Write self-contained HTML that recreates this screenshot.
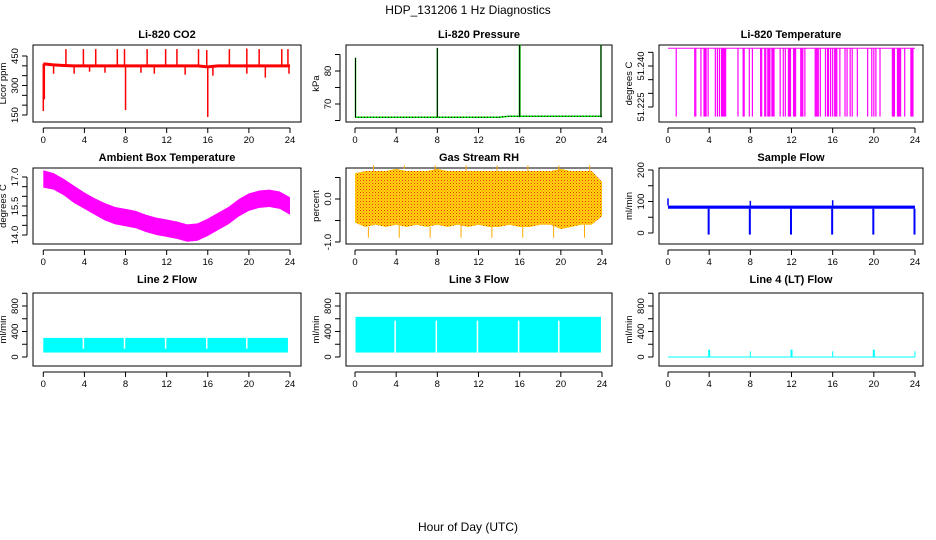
<!DOCTYPE html>
<html><head><meta charset="utf-8"><style>
html,body{margin:0;padding:0;background:#fff;width:936px;height:540px;overflow:hidden}
svg{display:block;font-family:"Liberation Sans",sans-serif}
.t{font-family:"Liberation Sans Narrow","Liberation Sans",sans-serif;font-weight:bold;font-size:11px}
.lab{font-size:9.5px}
</style></head><body>
<svg id="c" width="936" height="540" viewBox="0 0 936 540" xmlns="http://www.w3.org/2000/svg">
<text x="468" y="14" text-anchor="middle" font-size="12">HDP_131206  1 Hz Diagnostics</text>
<text x="468" y="531" text-anchor="middle" font-size="12">Hour of Day (UTC)</text>
</svg>
<script>
// ---- data ----
const xTicks=[0,4,8,12,16,20,24];
const co2Base=[410,405,402,400,400,400,400,400,400,400,400,400,400,400,400,400,395,400,400,400,400,400,400,400,400];
const co2UpHours=[2.2,3.9,5.1,7.2,7.9,10.1,11.9,13.0,15.1,15.9,18.1,19.8,21.0,23.2,23.8];
const co2UpVals=[485,485,485,485,485,485,485,485,485,480,485,488,485,485,485];
const co2DownHours=[0.0,0.1,8.0,16.0,3.0,6.0,9.5,13.8,16.5,19.8,21.6,23.9,1.0,4.5,10.8];
const co2DownVals=[170,230,175,140,360,365,365,355,350,360,340,360,360,370,360];
const presBase=[66,66,66,66,66,66,66,66,66,66,66,66,66,66,66,66.3,66.3,66.3,66.3,66.3,66.3,66.3,66.3,66.3,66.3];
const presSpikeHours=[0.05,8.0,16.0,23.9];
const presSpikeVals=[84,87,88,88];
const tempHours=[0.8,2.6,2.7,3.2,3.5,3.6,3.7,3.9,4.6,4.8,5.0,5.2,5.3,5.4,5.5,5.6,6.8,7.3,7.4,7.9,8.2,9.0,9.1,9.4,9.5,9.7,9.8,9.9,10.1,10.2,10.3,10.9,11.2,11.4,11.7,11.8,11.9,12.2,12.3,12.4,12.9,13.0,13.1,13.3,14.3,14.4,14.5,14.6,14.8,15.3,15.5,15.6,15.8,16.0,16.2,16.3,16.4,16.7,17.2,17.4,17.7,17.9,18.4,19.4,19.8,20.0,20.2,20.6,21.8,21.9,22.0,22.3,22.4,22.5,22.6,23.0,23.6,23.7,23.8];
const tempTop=51.2465, tempLow=51.2215;
const ambHours=[0,1,2,3,4,5,6,7,8,9,10,11,12,13,14,15,16,17,18,19,20,21,22,23,24];
const ambHi=[17.35,17.2,16.9,16.55,16.2,15.9,15.65,15.45,15.35,15.25,15.05,14.9,14.8,14.7,14.55,14.6,14.85,15.15,15.45,15.85,16.15,16.3,16.35,16.25,15.95];
const ambLo=[16.45,16.35,16.05,15.65,15.35,15.05,14.75,14.55,14.45,14.35,14.15,14.0,13.9,13.8,13.65,13.7,13.95,14.25,14.55,14.95,15.25,15.4,15.45,15.35,15.05];
const rhHi=[0.6,0.65,0.65,0.65,0.7,0.65,0.65,0.65,0.7,0.65,0.65,0.65,0.65,0.65,0.65,0.65,0.65,0.65,0.65,0.65,0.7,0.65,0.65,0.65,0.4];
const rhLo=[-0.55,-0.65,-0.6,-0.65,-0.6,-0.65,-0.6,-0.65,-0.6,-0.65,-0.6,-0.65,-0.6,-0.65,-0.65,-0.6,-0.65,-0.65,-0.6,-0.6,-0.7,-0.65,-0.6,-0.6,-0.4];
const flowLo=77, flowHi=87;
const flowDipHours=[4,8,12,16,20,24];
const flowUpHours=[0,8,16];
const flowUpVals=[110,102,104];
const l2Lo=70, l2Hi=300, l3Lo=70, l3Hi=630;
const gapHours=[3.9,7.9,11.9,15.9,19.8];
const l4SpikeHours=[4,8,12,16,20,24];
const l4SpikeVals=[115,90,115,90,115,90];

const NS="http://www.w3.org/2000/svg";
const svg=document.getElementById('c');
function el(tag,attrs,parent){const e=document.createElementNS(NS,tag);for(const k in attrs)e.setAttribute(k,attrs[k]);(parent||svg).appendChild(e);return e;}

function panel(name,title,ylab,box,x0,x24,yMin,yPx0,yMax,yPx1,ticks,labels,titleY){
  const g=el('g',{});
  
  
  const X=h=>x0+(x24-x0)*h/24;
  const Y=v=>yPx0+(yPx1-yPx0)*(v-yMin)/(yMax-yMin);
  const r=el('rect',{x:box[0],y:box[1],width:box[2]-box[0],height:box[3]-box[1],fill:'none',stroke:'#000','stroke-width':1},g);
  
  
  const t=el('text',{x:(box[0]+box[2])/2,y:titleY,'text-anchor':'middle',class:'t'},g);
  t.textContent=title;
  
  
  const xa=el('g',{},g);
  
  
  el('line',{x1:X(0),x2:X(24),y1:box[3]+6,y2:box[3]+6,stroke:'#000'},xa);
  xTicks.forEach(h=>{el('line',{x1:X(h),x2:X(h),y1:box[3]+6,y2:box[3]+11,stroke:'#000'},xa);
    const tx=el('text',{x:X(h),y:box[3]+21,'text-anchor':'middle',class:'lab'},xa);tx.textContent=h;});
  const ya=el('g',{},g);
  
  
  const ax=box[0]-6;
  el('line',{x1:ax,x2:ax,y1:Y(ticks[0]),y2:Y(ticks[ticks.length-1]),stroke:'#000'},ya);
  ticks.forEach(v=>el('line',{x1:ax,x2:ax-5,y1:Y(v),y2:Y(v),stroke:'#000'},ya));
  labels.forEach(l=>{const yy=Y(parseFloat(l));const tx=el('text',{x:ax-9,y:yy,'text-anchor':'middle',class:'lab',transform:`rotate(-90 ${ax-9} ${yy})`},ya);tx.textContent=l;});
  const yl=el('text',{x:box[0]-27,y:(box[1]+box[3])/2,'text-anchor':'middle',class:'lab',transform:`rotate(-90 ${box[0]-27} ${(box[1]+box[3])/2})`},g);
  yl.textContent=ylab;
  
  
  const s=el('g',{},g);
  
  
  return {X,Y,s};
}
function vline(p,h,a,b,col,w){el('line',{x1:p.X(h),x2:p.X(h),y1:p.Y(a),y2:p.Y(b),stroke:col,'stroke-width':w||1},p.s);}
function band(p,hs,hi,lo,fill){let pts=hs.map((h,i)=>p.X(h)+','+p.Y(hi[i]));for(let i=hs.length-1;i>=0;i--)pts.push(p.X(hs[i])+','+p.Y(lo[i]));el('polygon',{points:pts.join(' '),fill:fill},p.s);}

// CO2
let p=panel('co2','Li-820 CO2','Licor ppm',[33,45,301,122],43.3,290,150,115,450,56,[150,200,250,300,350,400,450],['150','300','450'],38);
co2UpHours.forEach((h,i)=>vline(p,h,co2Base[Math.round(h)],co2UpVals[i],'#f00',1.5));
co2DownHours.forEach((h,i)=>vline(p,h,co2Base[Math.round(h)],co2DownVals[i],'#f00',1.5));
el('polyline',{points:ambHours.map((h,i)=>p.X(h)+','+p.Y(co2Base[i])).join(' '),fill:'none',stroke:'#f00','stroke-width':3},p.s);

// Pressure
p=panel('pressure','Li-820 Pressure','kPa',[346,45,612,122],355,602,70,104,80,71,[65,70,75,80,85],['70','80'],38);
el('polyline',{points:ambHours.map((h,i)=>p.X(h)+','+p.Y(presBase[i])).join(' '),fill:'none',stroke:'#0d0','stroke-width':1.5},p.s);
el('polyline',{points:ambHours.map((h,i)=>p.X(h)+','+p.Y(presBase[i])).join(' '),fill:'none',stroke:'#000','stroke-width':1,'stroke-dasharray':'1 2'},p.s);
presSpikeHours.forEach((h,i)=>{vline(p,h,66,presSpikeVals[i],'#0d0',i==2?2:1.5);vline(p,h,66,presSpikeVals[i],'#000',1);});

// Temperature
p=panel('li820-temperature','Li-820 Temperature','degrees C',[659,45,923,122],668,915,51.225,107,51.240,66,[51.225,51.230,51.235,51.240,51.245],['51.225','51.240'],38);
el('line',{x1:p.X(0),x2:p.X(24),y1:p.Y(tempTop),y2:p.Y(tempTop),stroke:'#f0f','stroke-width':1},p.s);
tempHours.forEach(h=>vline(p,h,tempTop,tempLow,'#f0f',1.2));

// Ambient
p=panel('ambient-temperature','Ambient Box Temperature','degrees C',[33,168,301,244],43.3,290,14.0,235,17.0,177,[14.0,14.5,15.0,15.5,16.0,16.5,17.0],['14.0','15.5','17.0'],161);
band(p,ambHours,ambHi,ambLo,'#f0f');

// RH
p=panel('gas-stream-rh','Gas Stream RH','percent',[346,168,612,244],355,602,0,199,-1,242,[-1,-0.5,0,0.5],['-1.0','0.0'],161);
const defs=el('defs',{});
const pat=el('pattern',{id:'rhp',width:3,height:3,patternUnits:'userSpaceOnUse'},defs);
el('rect',{width:3,height:3,fill:'#fd0'},pat);
el('rect',{x:0,y:0,width:1,height:1,fill:'#e22'},pat);
el('rect',{x:1.5,y:1.5,width:1,height:1,fill:'#f44'},pat);
band(p,ambHours,rhHi,rhLo,'url(#rhp)');
ambHours.forEach((h,i)=>{if(i%3==1){vline(p,h+0.3,rhLo[i],-0.9,'#fa0',1);vline(p,h+0.8,rhHi[i],0.78,'#fa0',1);}});

// Sample flow
p=panel('sample-flow','Sample Flow','ml/min',[659,168,923,244],668,915,0,233,200,170,[0,50,100,150,200],['0','100','200'],161);
el('rect',{x:p.X(0),y:p.Y(flowHi),width:p.X(24)-p.X(0),height:p.Y(flowLo)-p.Y(flowHi),fill:'#00f'},p.s);
flowDipHours.forEach(h=>vline(p,h-0.05,flowLo,-5,'#00f',2));
flowUpHours.forEach((h,i)=>vline(p,h,flowHi,flowUpVals[i],'#00f',1.5));

// Line 2
p=panel('line-2-flow','Line 2 Flow','ml/min',[33,293,301,366],43.3,290,0,357,800,306,[0,200,400,600,800,1000],['0','400','800'],283);
el('rect',{x:p.X(0),y:p.Y(l2Hi),width:p.X(23.8)-p.X(0),height:p.Y(l2Lo)-p.Y(l2Hi),fill:'#0ff'},p.s);
gapHours.forEach(h=>vline(p,h,l2Lo+60,l2Hi,'#fff',1.5));
// Line 3
p=panel('line-3-flow','Line 3 Flow','ml/min',[346,293,612,366],355,602,0,357,800,306,[0,200,400,600,800,1000],['0','400','800'],283);
el('rect',{x:p.X(0.05),y:p.Y(l3Hi),width:p.X(23.9)-p.X(0.05),height:p.Y(l3Lo)-p.Y(l3Hi),fill:'#0ff'},p.s);
gapHours.forEach(h=>vline(p,h,l3Lo,l3Hi-60,'#fff',1.5));
// Line 4
p=panel('line-4-flow','Line 4 (LT) Flow','ml/min',[659,293,923,366],668,915,0,357,800,306,[0,200,400,600,800,1000],['0','400','800'],283);
el('line',{x1:p.X(0),x2:p.X(24),y1:p.Y(0),y2:p.Y(0),stroke:'#0ff','stroke-width':1},p.s);
l4SpikeHours.forEach((h,i)=>vline(p,h,0,l4SpikeVals[i],'#0ff',h%8==4?2:1));
</script>
</body></html>
